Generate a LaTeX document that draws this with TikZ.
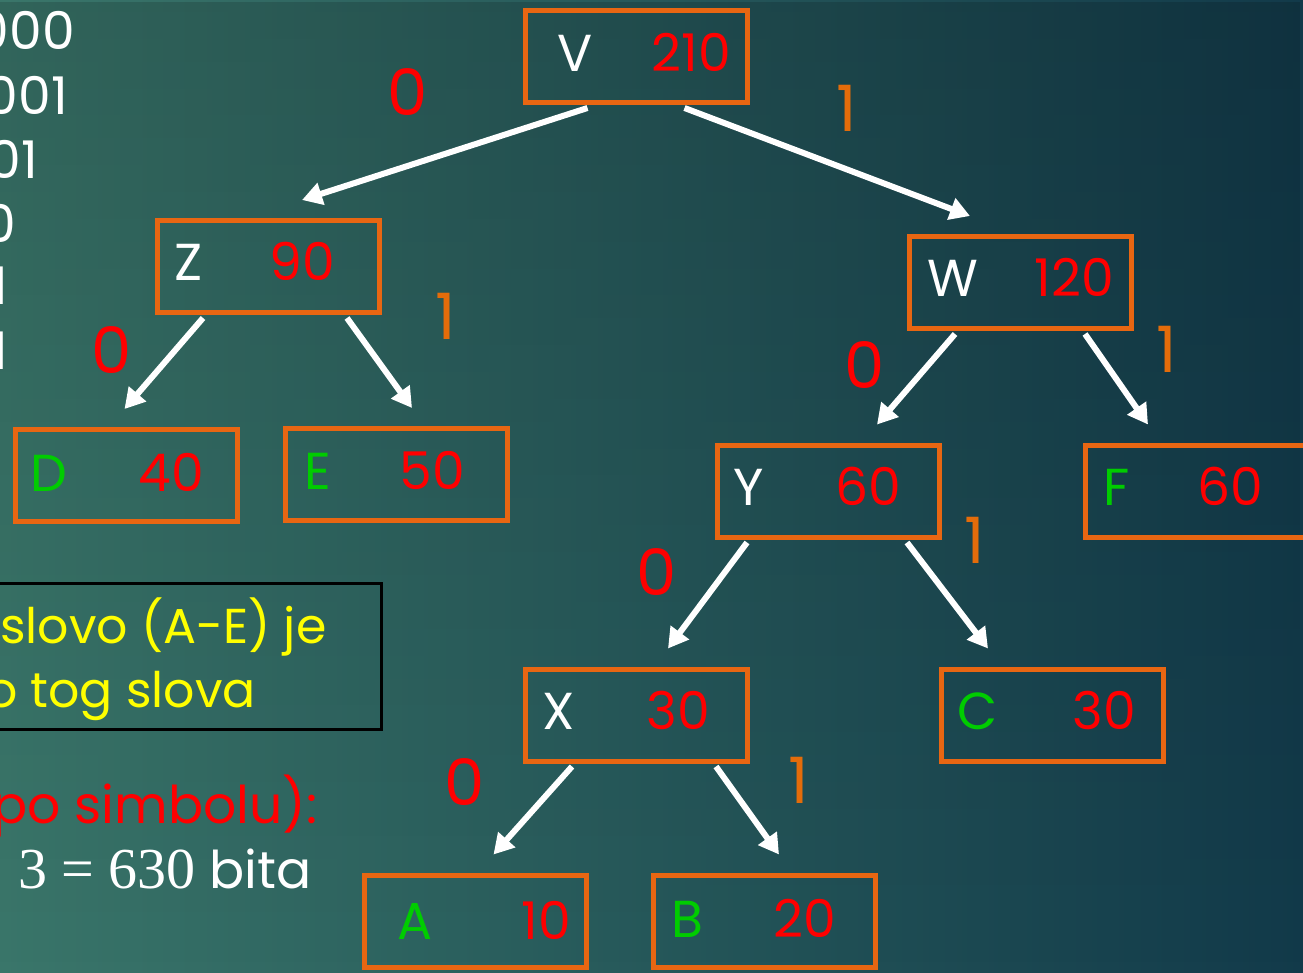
\documentclass[tikz,border=0pt]{standalone}
\usepackage{fontspec}
\setmainfont{Poppins}
\newfontfamily\numserif{Liberation Serif}
\usetikzlibrary{arrows.meta,fadings}

\definecolor{bgleft}{RGB}{58,118,106}
\definecolor{bgmid}{RGB}{44,100,98}
\definecolor{bgright}{RGB}{18,58,74}
\definecolor{boxorange}{RGB}{232,102,18}
\definecolor{bitorange}{RGB}{228,108,10}
\definecolor{numred}{RGB}{255,0,0}
\definecolor{leafgreen}{RGB}{0,204,0}
\definecolor{noteyellow}{RGB}{255,255,0}

\begin{document}
\begin{tikzpicture}[x=1pt,y=-1pt,
    box/.style={draw=boxorange, line width=5pt, minimum width=222pt, minimum height=92pt, inner sep=0pt},
    txt/.style={inner sep=0pt, font=\fontsize{52}{62}\selectfont},
    bit/.style={inner sep=0pt, font=\fontsize{64}{76}\selectfont},
    edge/.style={white, line width=6pt, -{Triangle[length=20pt,width=22pt]}}]

        % Background
        \useasboundingbox (0,0) rectangle (1303,973);
        \clip (0,0) rectangle (1303,973);
        \shade[left color=bgleft, middle color=bgmid, right color=bgright] (0,0) rectangle (1303,973);
        \fill[black, fill opacity=0.15, path fading=south] (0,0) rectangle (1303,973);

        % Codes (cut at the left edge)
        \node[txt, white, anchor=base east] (codeA) at (75,50) {1000};
        \node[txt, white, anchor=base east] (codeB) at (68,115) {1001};
        \node[txt, white, anchor=base east] (codeC) at (38,179) {101};
        \node[txt, white, anchor=base east] (codeD) at (16,243) {00};
        \node[txt, white, anchor=base east] (codeE) at (8,305) {01};
        \node[txt, white, anchor=base east] (codeF) at (8,369) {11};

        % Note box
        \node[draw=black, line width=3pt, minimum width=681pt, minimum height=146pt] (note) at (40.5,656.5) {};
        \node[txt, noteyellow, anchor=base west, font=\fontsize{49}{60}\selectfont] (note1) at (0,643) {slovo (A-E) je};
        \node[txt, noteyellow, anchor=base west, font=\fontsize{49}{60}\selectfont] (note2) at (-14,707) {o tog slova};

        % Total
        \node[txt, numred, anchor=base west] (total1) at (-8,823) {po simbolu):};
        \node[txt, white, anchor=base west] (total2) at (18,888) {{\numserif\fontsize{58}{66}\selectfont 3 = 630} bita};

        % Root
        \node[box] (V) at (636.5,56.5) {};
        \node[txt, white, anchor=base west] (Vl) at (557,72) {V};
        \node[txt, numred, anchor=base east] (Vn) at (731,72) {210};

        % Level 1
        \node[box] (Z) at (268,266.5) {};
        \node[txt, white, anchor=base west] (Zl) at (174,281) {Z};
        \node[txt, numred, anchor=base east] (Zn) at (335,281) {90};
        \node[box] (W) at (1020,282.5) {};
        \node[txt, white, anchor=base west] (Wl) at (927,297) {W};
        \node[txt, numred, anchor=base east] (Wn) at (1114,297) {120};

        % Level 2
        \node[box] (D) at (126.5,475.5) {};
        \node[txt, leafgreen, anchor=base west] (Dl) at (30,491) {D};
        \node[txt, numred, anchor=base east] (Dn) at (204,491) {40};
        \node[box] (E) at (396,474.5) {};
        \node[txt, leafgreen, anchor=base west] (El) at (304,489) {E};
        \node[txt, numred, anchor=base east] (En) at (465,489) {50};
        \node[box] (Y) at (828,491) {};
        \node[txt, white, anchor=base west] (Yl) at (733,505) {Y};
        \node[txt, numred, anchor=base east] (Yn) at (901,505) {60};
        \node[box] (F) at (1196,491) {};
        \node[txt, leafgreen, anchor=base west] (Fl) at (1103,505) {F};
        \node[txt, numred, anchor=base east] (Fn) at (1263,505) {60};

        % Level 3
        \node[box] (X) at (636,715) {};
        \node[txt, white, anchor=base west] (Xl) at (542,729) {X};
        \node[txt, numred, anchor=base east] (Xn) at (710,729) {30};
        \node[box] (C) at (1052,715) {};
        \node[txt, leafgreen, anchor=base west] (Cl) at (957,729) {C};
        \node[txt, numred, anchor=base east] (Cn) at (1136,729) {30};

        % Level 4
        \node[box] (A) at (475.5,921) {};
        \node[txt, leafgreen, anchor=base west] (Al) at (397,939) {A};
        \node[txt, numred, anchor=base east] (An) at (571,939) {10};
        \node[box] (B) at (764,921) {};
        \node[txt, leafgreen, anchor=base west] (Bl) at (671,937) {B};
        \node[txt, numred, anchor=base east] (Bn) at (836,937) {20};

        % Edges
        \draw[edge] ([xshift=-49pt,yshift=-3pt]V.south) -- ([xshift=34pt,yshift=18pt]Z.north);
        \draw[edge] ([xshift=48pt,yshift=-3pt]V.south) -- ([xshift=-50pt,yshift=18pt]W.north);
        \draw[edge] ([xshift=-65pt,yshift=-3pt]Z.south) -- ([xshift=-2pt,yshift=18pt]D.north);
        \draw[edge] ([xshift=79pt,yshift=-3pt]Z.south) -- ([xshift=16pt,yshift=18pt]E.north);
        \draw[edge] ([xshift=-65pt,yshift=-3pt]W.south) -- ([xshift=49pt,yshift=18pt]Y.north);
        \draw[edge] ([xshift=65pt,yshift=-3pt]W.south) -- ([xshift=-48pt,yshift=18pt]F.north);
        \draw[edge] ([xshift=-81pt,yshift=-3pt]Y.south) -- ([xshift=32pt,yshift=18pt]X.north);
        \draw[edge] ([xshift=79pt,yshift=-3pt]Y.south) -- ([xshift=-64pt,yshift=18pt]C.north);
        \draw[edge] ([xshift=-64pt,yshift=-3pt]X.south) -- ([xshift=18pt,yshift=18pt]A.north);
        \draw[edge] ([xshift=80pt,yshift=-3pt]X.south) -- ([xshift=15pt,yshift=18pt]B.north);

        % Bits
        \node[bit, numred] (b0V) at (408,92) {0};
        \node[bit, bitorange] (b1V) at (847,108) {1};
        \node[bit, numred] (b0Z) at (112,350) {0};
        \node[bit, bitorange] (b1Z) at (446,316) {1};
        \node[bit, numred] (b0W) at (865,365) {0};
        \node[bit, bitorange] (b1W) at (1167,349) {1};
        \node[bit, numred] (b0Y) at (657,572) {0};
        \node[bit, bitorange] (b1Y) at (975,540) {1};
        \node[bit, numred] (b0X) at (465,782) {0};
        \node[bit, bitorange] (b1X) at (799,780) {1};
\end{tikzpicture}
\end{document}
